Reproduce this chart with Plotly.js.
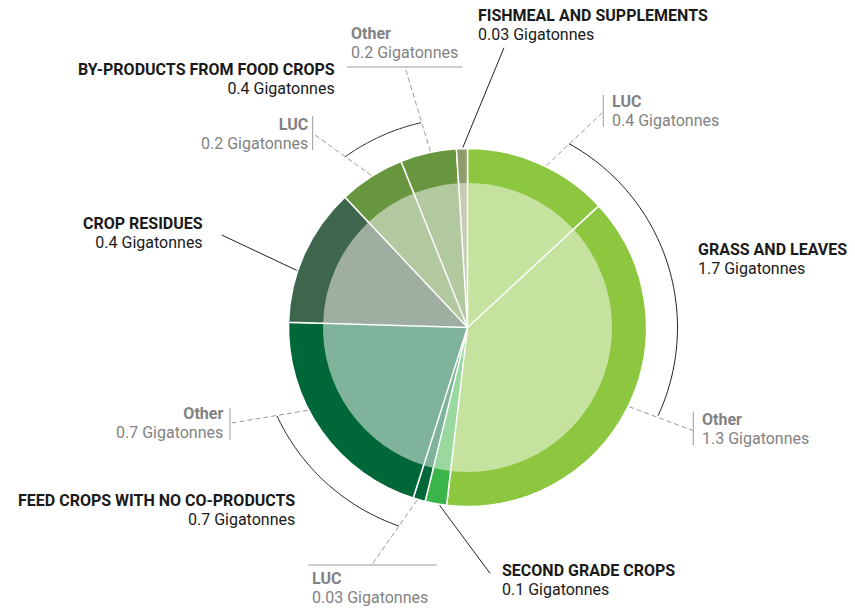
<!DOCTYPE html>
<html>
<head>
<meta charset="utf-8">
<script src="https://cdn.plot.ly/plotly-3.0.1.min.js"></script>
<style>html,body{margin:0;padding:0;background:#fff;}</style>
</head>
<body>
<div id="chart" style="width:855px;height:610px;"></div>
<script>
// ---------------- DATA ----------------
// Slices, clockwise from 12 o'clock (Gigatonnes)
const sliceNames = [
  'Grass and leaves – LUC', 'Grass and leaves – Other', 'Second grade crops',
  'Feed crops with no co-products – LUC', 'Feed crops with no co-products – Other',
  'Crop residues', 'By-products from food crops – LUC', 'By-products from food crops – Other',
  'Fishmeal and supplements'
];
const sliceValues = [0.44, 1.30, 0.065, 0.037, 0.69, 0.42, 0.20, 0.17, 0.033];

// Category labels
const categoryTitles = ['FISHMEAL AND SUPPLEMENTS', 'GRASS AND LEAVES', 'SECOND GRADE CROPS',
  'FEED CROPS WITH NO CO-PRODUCTS', 'CROP RESIDUES', 'BY-PRODUCTS FROM FOOD CROPS'];
const categoryValues = ['0.03 Gigatonnes', '1.7 Gigatonnes', '0.1 Gigatonnes',
  '0.7 Gigatonnes', '0.4 Gigatonnes', '0.4 Gigatonnes'];

// Sub-category labels
const subTitles = ['Other', 'LUC', 'LUC', 'Other', 'Other', 'LUC'];
const subValues = ['0.2 Gigatonnes', '0.2 Gigatonnes', '0.4 Gigatonnes',
  '1.3 Gigatonnes', '0.7 Gigatonnes', '0.03 Gigatonnes'];

// ---------------- STYLE / LAYOUT ----------------
const outerColors = ['#8DC63F','#8DC63F','#3AB54A','#006838','#006838','#3D664D','#67963F','#67963F','#8E9C6C'];
const innerColors = ['#C5E29E','#C5E29E','#9BD8A0','#7FB39B','#7FB39B','#9EAEA0','#B2C99F','#B2C99F','#C4CCB3'];

const W = 855, H = 610;
const CX = 467.5, CY = 327.5, R_OUT = 179, R_IN = 144.5, R_BR = 210;
const FONT = 'Roboto, sans-serif';
const FS = 16;          // glyph size
const LINE = 19;        // line pitch in px
const ASC = 0.928, DESC = 0.244;  // font metrics used to centre boxes
const BLACK = '#1a1a1a', GREY = '#828282', LGREY = '#9a9a9a';

const px = x => x / W;
const py = y => 1 - y / H;
function polar(r, deg) {
  const a = deg * Math.PI / 180;
  return [CX + r * Math.sin(a), CY - r * Math.cos(a)];
}

// label placements: [anchor, x, first-line baseline]
const catPos = [
  ['left', 478, 20.7],
  ['left', 698.3, 255],
  ['left', 501.7, 576],
  ['right', 295, 506],
  ['right', 202.7, 229.3],
  ['right', 335, 75]
];
const subPos = [
  ['left', 350.7, 39.3],
  ['right', 308, 130],
  ['left', 611.7, 106.7],
  ['left', 701.7, 425],
  ['right', 222.7, 419.3],
  ['left', 311.7, 584]
];
// leaders: [angle on ring, end x, end y, dashed]
const leaders = [
  [358.5, 504, 47.7, false],
  [188.9, 490, 573.3, false],
  [288.5, 221.7, 235, false],
  [348.1, 405, 67, true],
  [327.7, 315, 135, true],
  [26.0, 603.3, 111.7, true],
  [116.1, 693.3, 430.7, true],
  [242.6, 230, 423.3, true],
  [196.3, 371.7, 565, true]
];
// bracket arcs (degrees)
const brackets = [[28.9, 114.8], [199.1, 245.1], [324.4, 347.2]];
// label bars: [x0,y0,x1,y1]
const bars = [
  [347, 67, 462, 67],
  [312.7, 116, 312.7, 150],
  [603.3, 95, 603.3, 126.7],
  [693.3, 411.7, 693.3, 445],
  [230, 408.3, 230, 440],
  [308.3, 565, 436.7, 565]
];

// ---------------- TRACES ----------------
function domainFor(r) {
  return { x: [px(CX - r), px(CX + r)], y: [py(CY + r), py(CY - r)] };
}
const outer = {
  type: 'pie', values: sliceValues, labels: sliceNames, sort: false,
  direction: 'clockwise', rotation: 0, textinfo: 'none', hoverinfo: 'none',
  marker: { colors: outerColors, line: { color: '#ffffff', width: 1.5 } },
  domain: domainFor(R_OUT), showlegend: false
};
const inner = {
  type: 'pie', values: sliceValues, labels: sliceNames.map(s => s + ' '), sort: false,
  direction: 'clockwise', rotation: 0, textinfo: 'none', hoverinfo: 'none',
  marker: { colors: innerColors, line: { width: 0 } },
  domain: domainFor(R_IN), showlegend: false
};

// ---------------- SHAPES ----------------
const shapes = [];
const total = sliceValues.reduce((a, b) => a + b, 0);
let cum = 0;
sliceValues.forEach(v => {
  const ang = cum / total * 360;
  const p = polar(R_IN + 2, ang);
  shapes.push({ type: 'line', xref: 'paper', yref: 'paper', x0: px(CX), y0: py(CY),
    x1: px(p[0]), y1: py(p[1]), line: { color: '#ffffff', width: 1.5 } });
  cum += v;
});
leaders.forEach(l => {
  const p = polar(R_OUT + 1, l[0]);
  shapes.push({ type: 'line', xref: 'paper', yref: 'paper', x0: px(p[0]), y0: py(p[1]),
    x1: px(l[1]), y1: py(l[2]),
    line: { color: l[3] ? LGREY : '#222222', width: 1, dash: l[3] ? '5px,3px' : 'solid' } });
});
brackets.forEach(b => {
  let d = '';
  const n = 60;
  for (let i = 0; i <= n; i++) {
    const a = b[0] + (b[1] - b[0]) * i / n;
    const p = polar(R_BR, a);
    d += (i === 0 ? 'M' : 'L') + px(p[0]).toFixed(5) + ',' + py(p[1]).toFixed(5);
  }
  shapes.push({ type: 'path', xref: 'paper', yref: 'paper', path: d,
    line: { color: '#222222', width: 1 } });
});
bars.forEach(b => {
  shapes.push({ type: 'line', xref: 'paper', yref: 'paper', x0: px(b[0]), y0: py(b[1]),
    x1: px(b[2]), y1: py(b[3]), line: { color: LGREY, width: 1 } });
});

// ---------------- ANNOTATIONS ----------------
const annotations = [];
function addLabel(title, value, anchor, x, baseline1, color) {
  const baseline2 = baseline1 + LINE;
  const mid = (baseline1 - ASC * FS + baseline2 + DESC * FS) / 2;
  annotations.push({
    xref: 'paper', yref: 'paper', x: px(x), y: py(mid),
    xanchor: anchor, yanchor: 'middle', align: anchor, showarrow: false,
    text: '<span style="font-size:' + FS + 'px"><b>' + title + '</b></span><br>' +
          '<span style="font-size:' + FS + 'px">' + value + '</span>',
    font: { family: FONT, size: LINE / 1.3, color: color },
    borderpad: 0, borderwidth: 0
  });
}
categoryTitles.forEach((t, i) => {
  const p = catPos[i];
  addLabel(t, categoryValues[i], p[0], p[1], p[2], BLACK);
});
subTitles.forEach((t, i) => {
  const p = subPos[i];
  addLabel(t, subValues[i], p[0], p[1], p[2], GREY);
});

const layout = {
  width: W, height: H, margin: { l: 0, r: 0, t: 0, b: 0 },
  paper_bgcolor: '#ffffff', plot_bgcolor: '#ffffff',
  showlegend: false, shapes: shapes, annotations: annotations,
  font: { family: FONT }
};
Plotly.newPlot('chart', [outer, inner], layout, { displayModeBar: false, staticPlot: true });
</script>
</body>
</html>
